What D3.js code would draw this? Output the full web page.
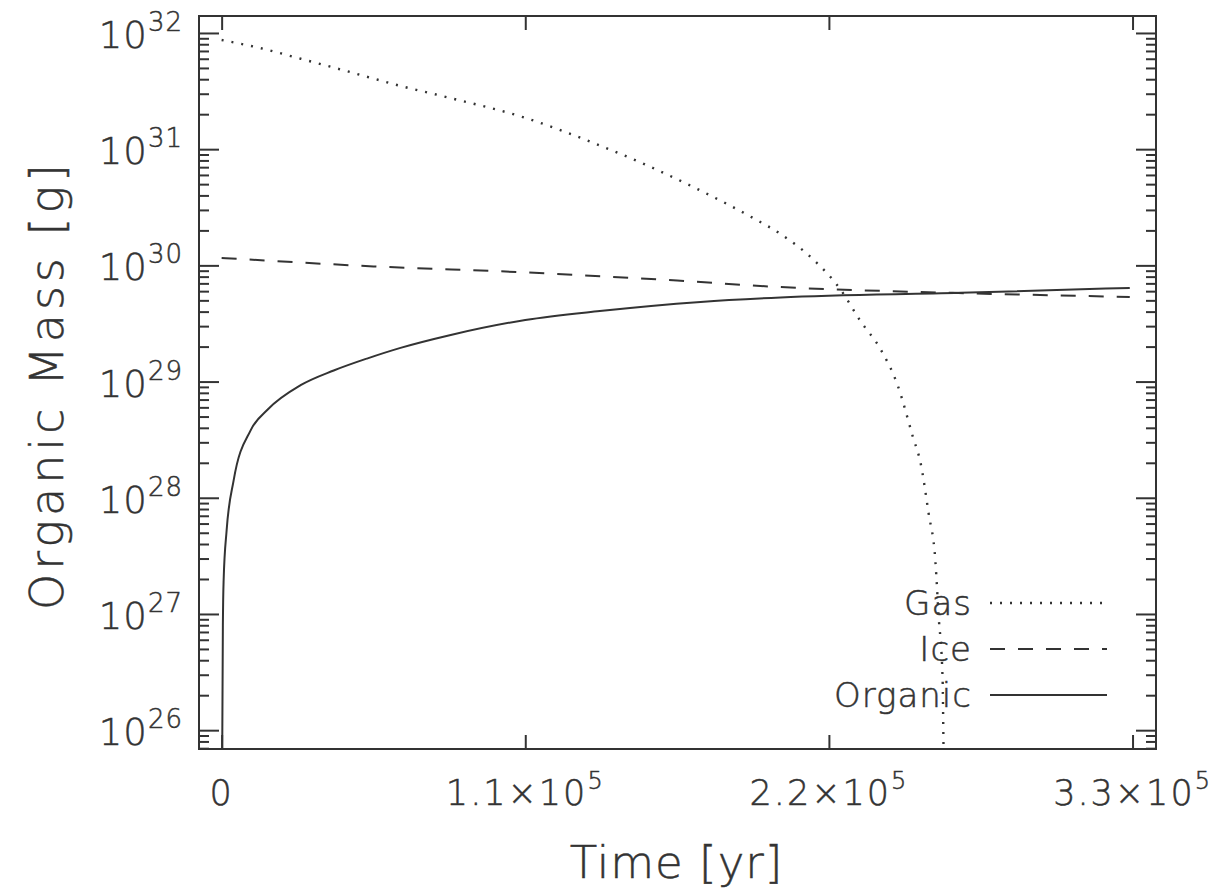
<!DOCTYPE html>
<html>
<head>
<meta charset="utf-8">
<script src="https://cdn.jsdelivr.net/npm/d3@7"></script>
<style>
  body { margin: 0; background: #fff; }
  svg text { font-family: "DejaVu Sans", sans-serif; font-weight: 200; fill: #333; stroke: #333; stroke-width: 0.5; }
</style>
</head>
<body>
<svg class="js-chart"></svg>
<script>
// Values
const gasTime = [0, 14100, 28600, 46700, 64800, 83000, 110000, 134000, 155000, 173500, 191600,
    202500, 214400, 224200, 231500, 238700, 244900, 250500, 253200, 256100, 258600, 259700,
    261200, 261500, 262000];
const gasMass = [8.7e31, 7.4e31, 6.0e31, 4.6e31, 3.5e31, 2.75e31, 1.86e31, 1.15e31, 7.1e30, 4.4e30, 2.63e30,
    1.86e30, 1.12e30, 6.2e29, 3.3e29, 1.9e29, 9.3e28, 3.3e28, 2.0e28, 7.4e27, 2.8e27, 1.0e27,
    2.7e26, 7.8e25, 1e25];

const iceTime = [0, 55000, 110000, 165000, 202500, 265000, 329000];
const iceMass = [1.16e30, 9.8e29, 8.7e29, 7.4e29, 6.5e29, 5.8e29, 5.35e29];

const orgTime = [0, 200, 450, 724, 1811, 4350, 10500, 16700, 28600, 40600, 52900, 64800,
    83000, 110000, 137000, 173500, 202500, 267700, 329000];
const orgMass = [1e24, 6e25, 8e26, 1.95e27, 5.25e27, 1.41e28, 3.8e28, 5.75e28, 9.3e28, 1.245e29, 1.585e29,
    1.95e29, 2.52e29, 3.39e29, 4.05e29, 4.85e29, 5.3e29, 5.8e29, 6.4e29];

const xTicks = [0, 1.1e5, 2.2e5, 3.3e5];
const xTickMant = ['0', '1.1', '2.2', '3.3'];
const yDecades = [26, 27, 28, 29, 30, 31, 32];
const legendNames = ['Gas', 'Ice', 'Organic'];

const svgWidth = 1218;
const svgHeight = 893;
const margin = {top: 16, right: 62, bottom: 144, left: 199};
const width = svgWidth - margin.left - margin.right;
const height = svgHeight - margin.top - margin.bottom;

const x = d3.scaleLinear()
    .domain([-8200, 338500])
    .range([0, width]);

const y = d3.scaleLog()
    .domain([Math.pow(10, 25.838), Math.pow(10, 32.146)])
    .range([height, 0]);

const svg = d3.select('.js-chart')
    .attr('width', svgWidth)
    .attr('height', svgHeight)
    .append('g')
    .attr('transform', `translate(${margin.left},${margin.top})`);

svg.append('clipPath')
    .attr('id', 'plot-clip')
    .append('rect')
    .attr('width', width)
    .attr('height', height);

// minor + major ticks on y (pointing inward)
const majors = yDecades.map(d => Math.pow(10, d));
const minors = [];
yDecades.concat([25]).forEach(d => {
    for (let m = 2; m <= 9; m++) {
        const v = m * Math.pow(10, d);
        if (v >= y.domain()[0] && v <= y.domain()[1]) minors.push(v);
    }
});

const styleAxis = g => {
    g.select('.domain').remove();
    g.selectAll('.tick line').attr('stroke', '#333').attr('stroke-width', 2);
    g.selectAll('.tick text').remove();
};

svg.append('g').call(d3.axisLeft(y).tickValues(majors).tickSize(-20)).call(styleAxis);
svg.append('g').call(d3.axisLeft(y).tickValues(minors).tickSize(-10)).call(styleAxis);
svg.append('g').attr('transform', `translate(${width},0)`)
    .call(d3.axisRight(y).tickValues(majors).tickSize(-20)).call(styleAxis);
svg.append('g').attr('transform', `translate(${width},0)`)
    .call(d3.axisRight(y).tickValues(minors).tickSize(-10)).call(styleAxis);
svg.append('g').attr('transform', `translate(0,${height})`)
    .call(d3.axisBottom(x).tickValues(xTicks).tickSize(-14)).call(styleAxis);
svg.append('g')
    .call(d3.axisTop(x).tickValues(xTicks).tickSize(-14)).call(styleAxis);

// frame
svg.append('rect')
    .attr('width', width)
    .attr('height', height)
    .attr('fill', 'none')
    .attr('stroke', '#333')
    .attr('stroke-width', 2);

// y tick labels: 10^n
const yLab = svg.append('g');
yDecades.forEach(d => {
    const t = yLab.append('text')
        .attr('x', -16)
        .attr('y', y(Math.pow(10, d)) + 15)
        .attr('text-anchor', 'end')
        .attr('font-size', 37)
        .attr('letter-spacing', 1);
    t.append('tspan').text('10');
    t.append('tspan').attr('dy', -17).attr('font-size', 26).text(d);
});

// x tick labels
xTicks.forEach((v, i) => {
    const t = svg.append('text')
        .attr('x', x(v))
        .attr('y', height + 56)
        .attr('text-anchor', 'middle')
        .attr('font-size', 35)
        .attr('letter-spacing', 2);
    if (v === 0) {
        t.text('0');
    } else {
        t.append('tspan').text(xTickMant[i] + '\u00d710');
        t.append('tspan').attr('dy', -16).attr('font-size', 24).text('5');
    }
});

// axis titles
svg.append('text')
    .attr('x', width / 2 - 1)
    .attr('y', height + 129)
    .attr('text-anchor', 'middle')
    .attr('font-size', 45)
    .attr('letter-spacing', 1)
    .text('Time [yr]');

svg.append('text')
    .attr('transform', 'rotate(-90)')
    .attr('x', -369)
    .attr('y', -136)
    .attr('text-anchor', 'middle')
    .attr('font-size', 46)
    .attr('letter-spacing', 4)
    .text('Organic Mass [g]');

// curves
const line = d3.line()
    .curve(d3.curveMonotoneX)
    .x(d => x(d[0]))
    .y(d => y(d[1]));

const series = [
    {time: gasTime, mass: gasMass, dash: '2,8', width: 2.4},
    {time: iceTime, mass: iceMass, dash: '15,13', width: 2},
    {time: orgTime, mass: orgMass, dash: null, width: 2}
];

const plot = svg.append('g').attr('clip-path', 'url(#plot-clip)');
series.forEach(s => {
    plot.append('path')
        .attr('d', line(d3.zip(s.time, s.mass)))
        .attr('fill', 'none')
        .attr('stroke', '#333')
        .attr('stroke-width', s.width)
        .attr('stroke-dasharray', s.dash);
});

// legend
const legend = svg.append('g');
legendNames.forEach((name, i) => {
    const ly = 587 + i * 46;
    legend.append('text')
        .attr('x', 773)
        .attr('y', ly + 12)
        .attr('text-anchor', 'end')
        .attr('font-size', 34)
        .attr('letter-spacing', 1)
        .text(name);
    legend.append('line')
        .attr('x1', 791)
        .attr('x2', 908)
        .attr('y1', ly)
        .attr('y2', ly)
        .attr('stroke', '#333')
        .attr('stroke-width', series[i].width)
        .attr('stroke-dasharray', series[i].dash);
});
</script>
</body>
</html>
